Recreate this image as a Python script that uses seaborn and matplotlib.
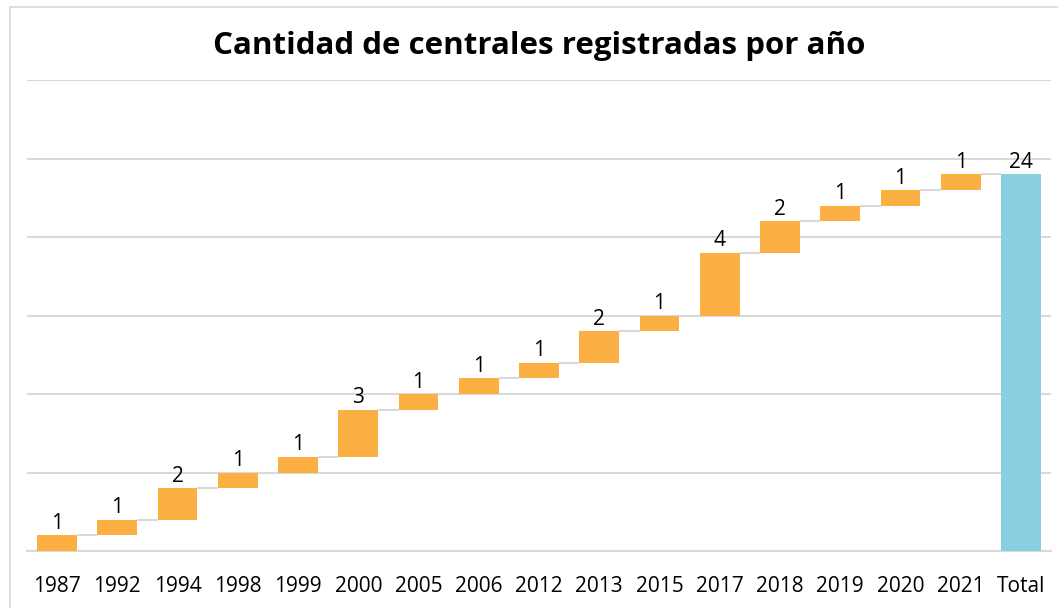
import numpy as np
import pandas as pd
import matplotlib
matplotlib.use("Agg")
import matplotlib.pyplot as plt
import seaborn as sns

# data
years = ["1987", "1992", "1994", "1998", "1999", "2000", "2005", "2006",
         "2012", "2013", "2015", "2017", "2018", "2019", "2020", "2021"]
counts = [1, 1, 2, 1, 1, 3, 1, 1, 1, 2, 1, 4, 2, 1, 1, 1]
total_label = "Total"

orange = "#FCB043"
blue = "#88D0DF"
grid_col = "#D9D9D9"

sns.set_style("white")
plt.rcParams["font.family"] = ["Open Sans", "DejaVu Sans"]
plt.rcParams["text.color"] = "black"

cum = np.cumsum(counts)
df = pd.DataFrame({
    "cat": years + [total_label],
    "height": counts + [int(cum[-1])],
    "base": list(cum - np.array(counts)) + [0],
})

fig = plt.figure(figsize=(10.58, 6.08), dpi=100)
ax = fig.add_axes([27 / 1058, 57 / 608, 1024 / 1058, 471 / 608])

sns.barplot(data=df, x="cat", y="height", bottom=df["base"].values,
            color=orange, width=0.66, saturation=1, ax=ax, zorder=3)
bars = ax.patches
for p in bars:
    p.set_facecolor(orange)
    p.set_edgecolor("none")
bars[-1].set_facecolor(blue)

# connectors between bars
w = 0.66
tops = list(cum) + [cum[-1]]
for i in range(len(df) - 1):
    ax.hlines(tops[i], i + w / 2, i + 1 - w / 2, color=grid_col, lw=1.5, zorder=2)

ax.bar_label(ax.containers[0], labels=[str(v) for v in df["height"]],
             padding=1, fontsize=15, color="black")

ax.set_ylim(0, 30)
ax.set_xlim(-0.5, len(df) - 0.5)
ax.set_yticks(np.arange(0, 31, 5))
ax.yaxis.grid(True, color=grid_col, lw=1.5, zorder=0)
ax.set_axisbelow(True)
ax.set_yticklabels([])
ax.tick_params(axis="both", length=0)
ax.tick_params(axis="x", labelsize=15, pad=18, labelcolor="black")
for s in ["top", "right", "left"]:
    ax.spines[s].set_visible(False)
ax.spines["bottom"].set_color(grid_col)
ax.spines["bottom"].set_linewidth(1.5)
ax.set_xlabel("")
ax.set_ylabel("")

fig.text(0.51, 1 - 46 / 608, "Cantidad de centrales registradas por año",
         ha="center", va="center", fontsize=22.5, fontweight="bold", color="black")

# light frame around the chart area
fig.add_artist(plt.Line2D([10 / 1058, 1], [1 - 7 / 608, 1 - 7 / 608],
                          color=grid_col, lw=1.2, transform=fig.transFigure))
fig.add_artist(plt.Line2D([10 / 1058, 10 / 1058], [0, 1 - 7 / 608],
                          color=grid_col, lw=1.2, transform=fig.transFigure))

fig.savefig("out.png", dpi=100)
